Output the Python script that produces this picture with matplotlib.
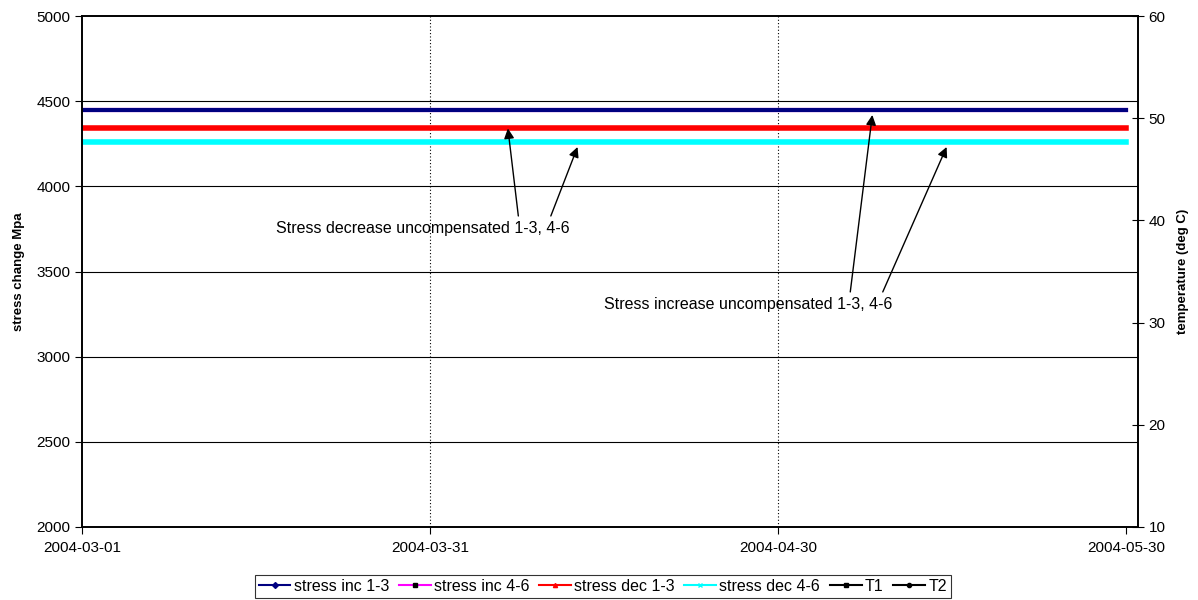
import matplotlib
matplotlib.use("Agg")
import matplotlib.pyplot as plt
import matplotlib.dates as mdates
from matplotlib.lines import Line2D
import numpy as np
import pandas as pd

plt.rcParams["font.family"] = ["Liberation Sans", "DejaVu Sans"]

# data: flat stress levels over the logging period
dates = pd.date_range("2004-03-01", "2004-05-30", freq="12h")
stress_inc_13 = 4450.0
stress_inc_46 = 4450.0
stress_dec_13 = 4340.0
stress_dec_46 = 4260.0

tick_dates = ["2004-03-01", "2004-03-31", "2004-04-30", "2004-05-30"]
grid_dates = ["2004-03-31", "2004-04-30"]

fig = plt.figure(figsize=(11.98, 6.0), dpi=100)
ax = fig.add_axes([0.0684, 0.1217, 0.8816, 0.8516])
ax2 = ax.twinx()

ax.plot(dates, np.full(len(dates), stress_inc_46), color="#ff00ff", lw=3)
ax.plot(dates, np.full(len(dates), stress_inc_13), color="#000080", lw=3)
ax.plot(dates, np.full(len(dates), stress_dec_13), color="#ff0000", lw=4)
ax.plot(dates, np.full(len(dates), stress_dec_46), color="#00ffff", lw=4)

ax.set_ylim(2000, 5000)
ax.set_yticks(np.arange(2000, 5001, 500))
ax.set_xlim(pd.Timestamp("2004-03-01"), pd.Timestamp("2004-05-31"))
ax.set_xticks([pd.Timestamp(d) for d in tick_dates])
ax.xaxis.set_major_formatter(mdates.DateFormatter("%Y-%m-%d"))
for y in range(2500, 5000, 500):
    ax.axhline(y, color="black", lw=0.8, zorder=0)
for d in grid_dates:
    ax.axvline(pd.Timestamp(d), color="black", lw=0.8, ls=(0, (1, 2)), zorder=0)

ax2.set_ylim(10, 60)
ax2.set_yticks(np.arange(10, 61, 10))

for a in (ax, ax2):
    for s in a.spines.values():
        s.set_linewidth(1.2)
    a.tick_params(labelsize=11, length=5, width=0.8)
ax2.tick_params(axis="y", direction="inout", length=8)
ax.tick_params(axis="x", pad=5)

ax.set_ylabel("stress change Mpa", fontsize=9.5, fontweight="bold", labelpad=8)
ax2.set_ylabel("temperature (deg C)", fontsize=9.5, fontweight="bold", labelpad=8)

# annotations (x in days after 2004-03-01)
t0 = mdates.date2num(pd.Timestamp("2004-03-01"))
arrow = dict(arrowstyle="-|>", color="black", lw=1, mutation_scale=15, shrinkA=0, shrinkB=0)

ax.text(t0 + 29.35, 3755, "Stress decrease uncompensated 1-3, 4-6",
        ha="center", va="center", fontsize=11.5)
ax.annotate("", xy=(t0 + 36.7, stress_dec_13), xytext=(t0 + 37.6, 3826), arrowprops=arrow)
ax.annotate("", xy=(t0 + 42.7, 4231), xytext=(t0 + 40.4, 3826), arrowprops=arrow)

ax.text(t0 + 57.4, 3309, "Stress increase uncompensated 1-3, 4-6",
        ha="center", va="center", fontsize=11.5)
ax.annotate("", xy=(t0 + 68.1, 4419), xytext=(t0 + 66.2, 3380), arrowprops=arrow)
ax.annotate("", xy=(t0 + 74.5, 4231), xytext=(t0 + 69.0, 3380), arrowprops=arrow)

handles = [
    Line2D([], [], color="#000080", marker="D", ms=3, lw=1.5, label="stress inc 1-3"),
    Line2D([], [], color="#ff00ff", marker="s", ms=3, mfc="black", mec="black", lw=1.5, label="stress inc 4-6"),
    Line2D([], [], color="#ff0000", marker="^", ms=3, lw=1.5, label="stress dec 1-3"),
    Line2D([], [], color="#00ffff", marker="x", ms=3, lw=1.5, label="stress dec 4-6"),
    Line2D([], [], color="black", marker="s", ms=3, lw=1.5, label="T1"),
    Line2D([], [], color="black", marker="o", ms=3, lw=1.5, label="T2"),
]
leg = fig.legend(handles=handles, loc="lower center", bbox_to_anchor=(0.503, -0.01), ncol=6,
                 fontsize=11.5, frameon=True, fancybox=False, edgecolor="black",
                 handlelength=2.0, handletextpad=0.2, columnspacing=0.6, borderpad=0.25)
leg.get_frame().set_linewidth(0.8)

fig.savefig("out.png", dpi=100)
